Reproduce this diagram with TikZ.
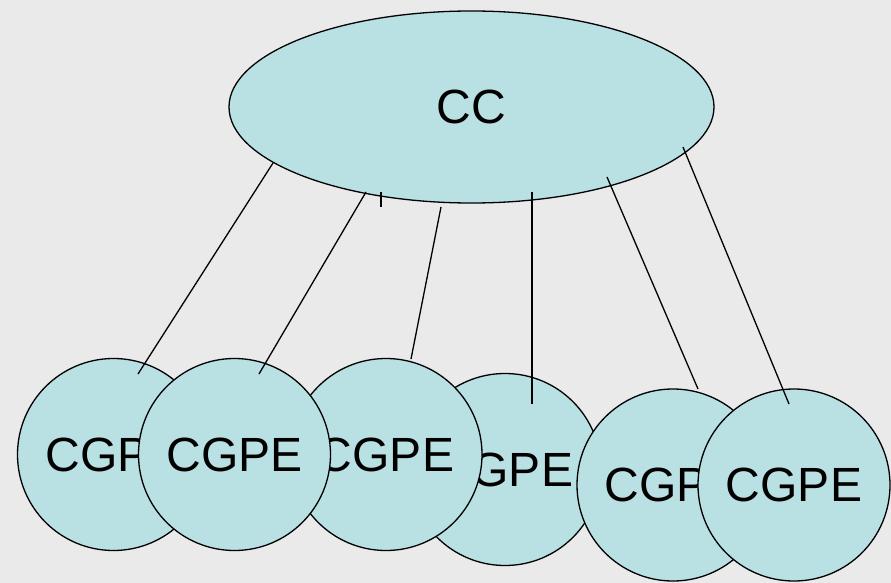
\documentclass[tikz,border=0pt]{standalone}
\usepackage{fontspec}
\setmainfont{Liberation Sans}
\usetikzlibrary{shapes.geometric}
\definecolor{bgc}{RGB}{234,234,234}
\definecolor{fillc}{RGB}{185,224,227}
\begin{document}
\begin{tikzpicture}[x=1pt,y=-1pt,
  unit/.style={circle,draw=black,line width=1.3pt,fill=fillc,minimum size=192pt,inner sep=0pt,font=\fontsize{48}{58}\selectfont},
  hub/.style={ellipse,draw=black,line width=1.3pt,fill=fillc,minimum width=485pt,minimum height=192pt,inner sep=0pt,font=\fontsize{48}{58}\selectfont},
  link/.style={draw=black,line width=1.3pt}]
\fill[bgc] (0,0) rectangle (891,583);
\useasboundingbox (0,0) rectangle (891,583);
\node[hub] (cc) at (471.5,107) {CC};
\node[unit] (g1) at (113.5,454.5) {CGPE};
\node[unit] (g4) at (505,469.5) {CGPE};
\node[unit] (g3) at (386,454.5) {CGPE};
\node[unit] (g2) at (234.5,454.5) {CGPE};
\node[unit] (g5) at (673,485) {CGPE};
\node[unit] (g6) at (794,485) {CGPE};
\coordinate (a1) at (273,163); \coordinate (b1) at (138,374);
\coordinate (a2) at (366,192); \coordinate (b2) at (259,374);
\coordinate (t1) at (381,192); \coordinate (t2) at (381,207);
\coordinate (a3) at (441,207); \coordinate (b3) at (411,359);
\coordinate (a4) at (532,192); \coordinate (b4) at (532,404);
\coordinate (a5) at (607,177); \coordinate (b5) at (698,389);
\coordinate (a6) at (683,147); \coordinate (b6) at (789,404);
\draw[link] (a1) -- (b1);
\draw[link] (a2) -- (b2);
\draw[link] (t1) -- (t2);
\draw[link] (a3) -- (b3);
\draw[link] (a4) -- (b4);
\draw[link] (a5) -- (b5);
\draw[link] (a6) -- (b6);
\end{tikzpicture}
\end{document}
